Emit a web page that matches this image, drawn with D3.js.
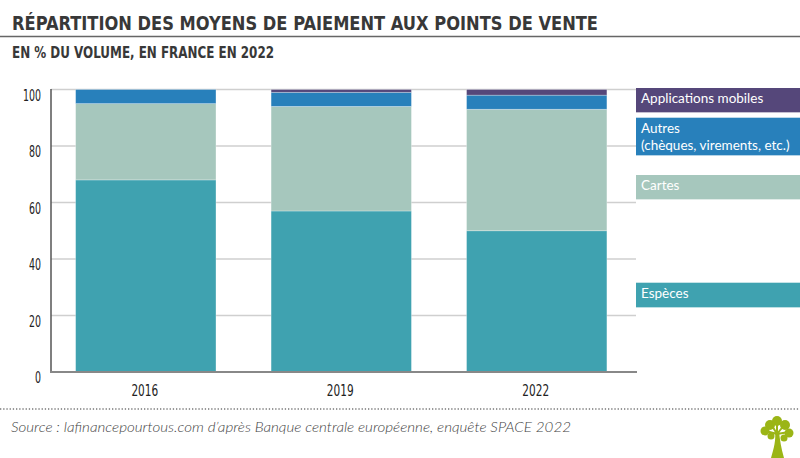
<!DOCTYPE html>
<html><head><meta charset="utf-8">
<script src="https://cdn.jsdelivr.net/npm/d3@7"></script>
<style>
html,body{margin:0;padding:0;background:#fff;}
svg{display:block;}
</style></head>
<body>
<svg id="chart" width="800" height="458"></svg>
<script>
const title = "RÉPARTITION DES MOYENS DE PAIEMENT AUX POINTS DE VENTE";
const subtitle = "EN % DU VOLUME, EN FRANCE EN 2022";
const source = "Source : lafinancepourtous.com d’après Banque centrale européenne, enquête SPACE 2022";
const years = ["2016", "2019", "2022"];
const seriesNames = ["Espèces", "Cartes", "Autres", "Applications mobiles"];
const especes = [68, 57, 50];
const cartes = [27, 37, 43];
const autres = [5, 5, 5];
const mobiles = [0, 1, 2];
const yTicks = [0, 20, 40, 60, 80, 100];
const colors = ["#3fa2b0", "#a6c7bd", "#2880bb", "#55477a"];
const legendLabels = [["Espèces"], ["Cartes"], ["Autres", "(chèques, virements, etc.)"], ["Applications mobiles"]];

const svg = d3.select("#chart");
const narrow = "'Liberation Sans Narrow','DejaVu Sans Condensed',sans-serif";

// header
svg.append("text").attr("x", 12).attr("y", 29.5)
  .attr("font-family", narrow).attr("font-weight", "bold").attr("font-size", 20)
  .attr("fill", "#383838").attr("textLength", 586).attr("lengthAdjust", "spacingAndGlyphs")
  .text(title);
svg.append("line").attr("x1", 0).attr("x2", 800).attr("y1", 36.5).attr("y2", 36.5)
  .attr("stroke", "#666").attr("stroke-width", 1.6);
svg.append("text").attr("x", 12).attr("y", 57.5)
  .attr("font-family", narrow).attr("font-weight", "bold").attr("font-size", 15)
  .attr("fill", "#383838").attr("textLength", 262).attr("lengthAdjust", "spacingAndGlyphs")
  .text(subtitle);

// scales
const x = d3.scaleBand().domain(years).range([51, 637]).paddingInner(0.282).paddingOuter(0.14).align(0.45);
const y = d3.scaleLinear().domain([0, 100]).range([372, 89.5]);

// gridlines
svg.append("g").selectAll("line").data(yTicks.filter(d => d > 0)).join("line")
  .attr("x1", 51).attr("x2", 636).attr("y1", d => y(d)).attr("y2", d => y(d))
  .attr("stroke", "#cfcfcf").attr("stroke-width", 1.5);

// stacked data
const table = years.map((yr, i) => ({year: yr, "Espèces": especes[i], "Cartes": cartes[i], "Autres": autres[i], "Applications mobiles": mobiles[i]}));
const stack = d3.stack().keys(seriesNames)(table);

svg.append("g").selectAll("g").data(stack).join("g")
  .attr("fill", (d, i) => colors[i])
  .selectAll("rect").data(d => d).join("rect")
  .attr("x", d => x(d.data.year)).attr("width", x.bandwidth())
  .attr("y", d => y(d[1])).attr("height", d => Math.max(0, y(d[0]) - y(d[1])))
  .attr("stroke", "rgba(255,255,255,0.35)").attr("stroke-width", 0.8);

// y axis
const yAxis = d3.axisLeft(y).tickValues(yTicks).tickSize(0).tickPadding(0);
const gy = svg.append("g").attr("transform", "translate(41,0)").call(yAxis);
gy.select(".domain").remove();
gy.selectAll("text").attr("font-family", narrow).attr("font-size", 15).attr("fill", "#222")
  .attr("dy", "0.72em").attr("x", 0)
  .attr("textLength", function() { return this.textContent.length * 6; })
  .attr("lengthAdjust", "spacingAndGlyphs");
svg.append("line").attr("x1", 51).attr("x2", 51).attr("y1", 89).attr("y2", 373)
  .attr("stroke", "#555").attr("stroke-width", 1.5);

// x axis
const xAxis = d3.axisBottom(x).tickSize(0).tickPadding(0);
const gx = svg.append("g").attr("transform", "translate(-1,385)").call(xAxis);
gx.select(".domain").remove();
gx.selectAll("text").attr("font-family", narrow).attr("font-size", 15).attr("fill", "#222").attr("dy", "0.72em")
  .attr("textLength", function() { return this.textContent.length * 6.7; })
  .attr("lengthAdjust", "spacingAndGlyphs");
svg.append("line").attr("x1", 50).attr("x2", 637).attr("y1", 372).attr("y2", 372)
  .attr("stroke", "#888").attr("stroke-width", 2);

// legend
const legendBoxes = [
  {top: 282.7, h: 24.3},
  {top: 175, h: 24},
  {top: 117.7, h: 37.3},
  {top: 88, h: 24}
];
const lg = svg.append("g");
legendBoxes.forEach((b, i) => {
  lg.append("rect").attr("x", 636).attr("y", b.top).attr("width", 164).attr("height", b.h).attr("fill", colors[i]);
  lg.append("rect").attr("x", 636).attr("y", b.top + b.h).attr("width", 164).attr("height", 1).attr("fill", colors[i]).attr("opacity", 0.35);
  legendLabels[i].forEach((t, j) => {
    lg.append("text").attr("x", 641).attr("y", b.top + 15 + j * 17)
      .attr("font-family", "Lato, 'Open Sans', sans-serif").attr("font-size", 13.5).attr("fill", "#fff")
      .text(t);
  });
});

// footer
svg.append("line").attr("x1", 0).attr("x2", 800).attr("y1", 409).attr("y2", 409)
  .attr("stroke", "#777").attr("stroke-width", 1.3).attr("stroke-dasharray", "1.3,1.9");
svg.append("text").attr("x", 11).attr("y", 432)
  .attr("font-family", "Lato, sans-serif").attr("font-style", "italic").attr("font-weight", 300)
  .attr("font-size", 14).attr("fill", "#444").attr("textLength", 560).attr("lengthAdjust", "spacingAndGlyphs")
  .text(source);

// logo (tree)
const logo = svg.append("g").attr("fill", "#9bb516");
logo.append("path").attr("d", "M771,458 C774,448 776,440 775,432 L779,432 C780,440 781,448 784,458 Z");
[[770,425,5],[777,421,5],[785,425,5],[765,431,4.5],[789,433,4.5],[771,436,3.5],[784,438,3.5]].forEach(c => {
  logo.append("circle").attr("cx", c[0]).attr("cy", c[1]).attr("r", c[2]);
});
logo.append("path").attr("d", "M777,434 L766,431 M777,434 L771,424 M777,434 L777,420 M777,434 L785,424 M777,434 L789,432")
  .attr("stroke", "#9bb516").attr("stroke-width", 2).attr("fill", "none");
</script>
</body></html>
